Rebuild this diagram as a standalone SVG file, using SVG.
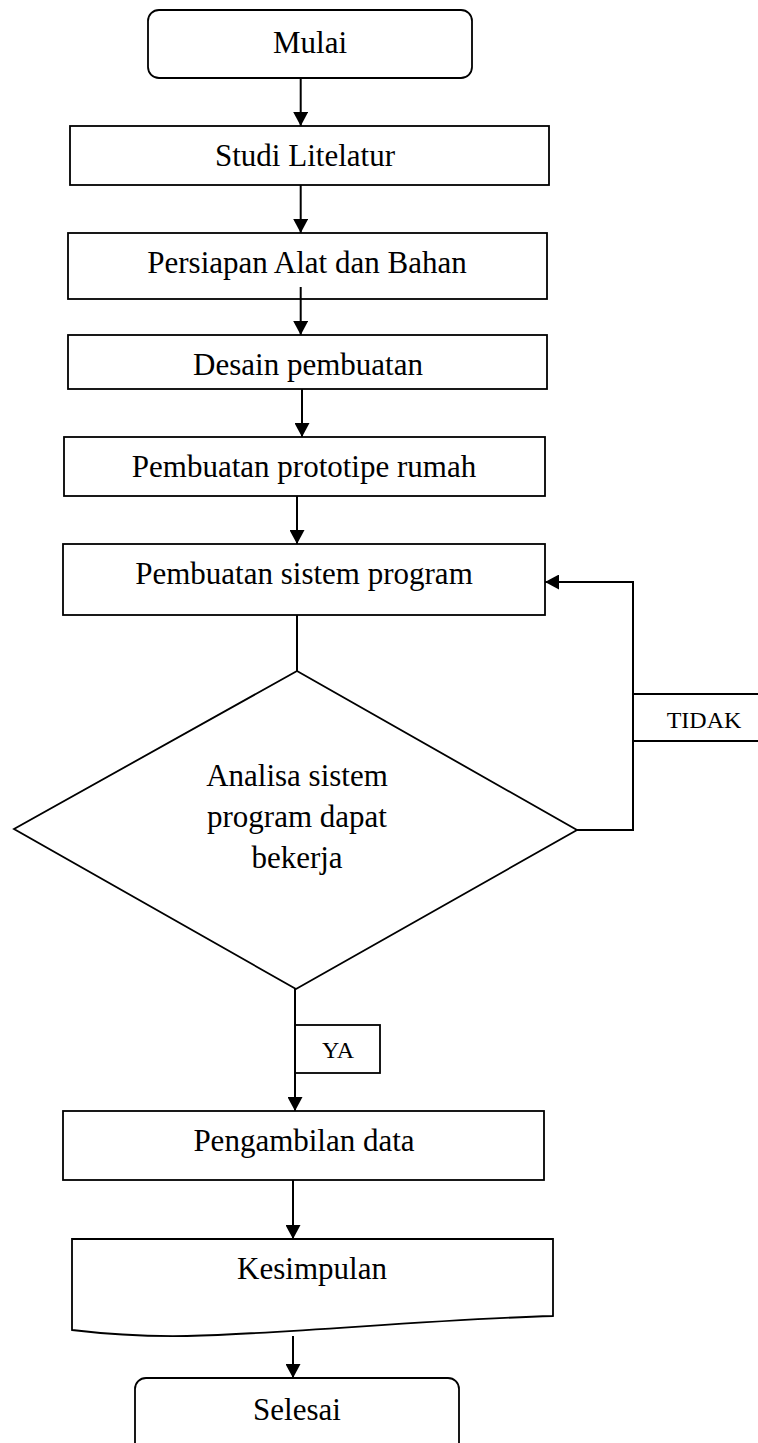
<svg xmlns="http://www.w3.org/2000/svg" width="758" height="1443" viewBox="0 0 758 1443">
<style>
.box{fill:#fff;stroke:#000;stroke-width:1.8}
.t{font-family:"Liberation Serif","Times New Roman",serif;font-size:31px;fill:#000;text-anchor:middle}
.lbl{font-family:"Liberation Serif","Times New Roman",serif;font-size:24px;fill:#000;text-anchor:middle}
.c{fill:none;stroke:#000;stroke-width:2}
</style>
<defs>
<marker id="ah" markerUnits="userSpaceOnUse" markerWidth="14" markerHeight="15" refX="14" refY="7.5" orient="auto">
<path d="M0,0 L14,7.5 L0,15 Z" fill="#000"/>
</marker>
</defs>
<rect width="758" height="1443" fill="#fff"/>
<g id="mulai"><rect class="box" x="148" y="10" width="324" height="68" rx="11"/><text class="t" x="310" y="53">Mulai</text></g>
<g id="studi"><rect class="box" x="70" y="126" width="479" height="59"/><text class="t" x="305" y="166">Studi Litelatur</text></g>
<g id="persiapan"><rect class="box" x="68" y="233" width="479" height="66"/><text class="t" x="307" y="273">Persiapan Alat dan Bahan</text></g>
<g id="desain"><rect class="box" x="68" y="335" width="479" height="54"/><text class="t" x="308" y="375">Desain pembuatan</text></g>
<g id="prototipe"><rect class="box" x="64" y="437" width="481" height="59"/><text class="t" x="304" y="477">Pembuatan prototipe rumah</text></g>
<g id="sistem"><rect class="box" x="63" y="544" width="482" height="71"/><text class="t" x="304" y="584">Pembuatan sistem program</text></g>
<g id="analisa"><polygon class="box" points="297,671 577,830 296,989 14,829"/>
<text class="t" x="297" y="786">Analisa sistem</text>
<text class="t" x="297" y="827">program dapat</text>
<text class="t" x="297" y="868">bekerja</text></g>
<g id="pengambilan"><rect class="box" x="63" y="1111" width="481" height="69"/><text class="t" x="304" y="1151">Pengambilan data</text></g>
<g id="kesimpulan"><path class="box" d="M72,1239 L553,1239 L553,1316 C420,1320 300,1333 187,1336 Q130,1337 72,1330 Z"/><text class="t" x="312" y="1279">Kesimpulan</text></g>
<g id="selesai"><rect class="box" x="135" y="1378" width="324" height="80" rx="11"/><text class="t" x="297" y="1420">Selesai</text></g>
<g id="connectors">
<line class="c" x1="300.7" y1="78" x2="300.7" y2="126" marker-end="url(#ah)"/>
<line class="c" x1="300.7" y1="185" x2="300.7" y2="233" marker-end="url(#ah)"/>
<line class="c" x1="300.7" y1="287" x2="300.7" y2="335" marker-end="url(#ah)"/>
<line class="c" x1="302" y1="389" x2="302" y2="437" marker-end="url(#ah)"/>
<line class="c" x1="297" y1="496" x2="297" y2="544" marker-end="url(#ah)"/>
<line class="c" x1="297" y1="615" x2="297" y2="671" stroke-width="1.6"/>
<line class="c" x1="295" y1="989" x2="295" y2="1111" marker-end="url(#ah)"/>
<line class="c" x1="293" y1="1180" x2="293" y2="1239" marker-end="url(#ah)"/>
<line class="c" x1="293" y1="1336" x2="293" y2="1378" marker-end="url(#ah)"/>
<polyline class="c" points="577,830 633,830 633,582 545,582" marker-end="url(#ah)"/>
</g>
<g id="label-tidak"><path class="c" d="M633,694 L760,694 M633,741 L760,741"/><text class="lbl" x="704" y="728">TIDAK</text></g>
<g id="label-ya"><rect class="box" x="295" y="1025" width="85" height="48"/><line class="c" x1="295" y1="1025" x2="295" y2="1073"/><text class="lbl" x="338" y="1058">YA</text></g>
</svg>
